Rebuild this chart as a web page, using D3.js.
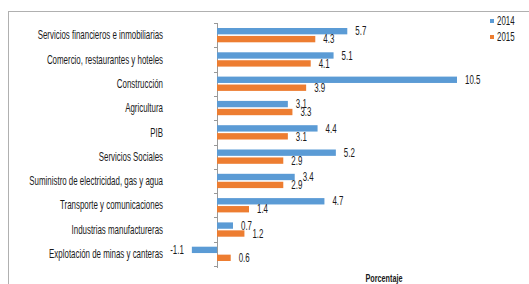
<!DOCTYPE html>
<html>
<head>
<meta charset="utf-8">
<script src="https://cdn.jsdelivr.net/npm/d3@7"></script>
<style>
  body { margin: 0; background: #fff; }
  text { font-family: 'Liberation Sans Narrow', 'Arial Narrow', 'Liberation Sans', sans-serif; }
</style>
</head>
<body>
<div class="chart"></div>
<script>
const categories = [
  'Servicios financieros e inmobiliarias',
  'Comercio, restaurantes y hoteles',
  'Construcción',
  'Agricultura',
  'PIB',
  'Servicios Sociales',
  'Suministro de electricidad, gas y agua',
  'Transporte y comunicaciones',
  'Industrias manufactureras',
  'Explotación de minas y canteras'
]
const values2014 = [5.7, 5.1, 10.5, 3.1, 4.4, 5.2, 3.4, 4.7, 0.7, -1.1]
const values2015 = [4.3, 4.1, 3.9, 3.3, 3.1, 2.9, 2.9, 1.4, 1.2, 0.6]
const seriesNames = ['2014', '2015']
const axisTitle = 'Porcentaje'

const COLOR_2014 = '#5b9bd5'
const COLOR_2015 = '#ed7d31'
const W = 529
const H = 284
// the original uses a narrow font, squeeze the text horizontally
const SQUEEZE = 0.66

const svg = d3.select('.chart').append('svg')
  .attr('width', W)
  .attr('height', H)

// narrow text helper: positioned group + horizontally scaled text
const narrowText = (container, px, py, str, anchor, size, weight) => {
  const g = container.append('g')
    .attr('transform', `translate(${px},${py}) scale(${SQUEEZE},1)`)
  g.append('text')
    .attr('dy', '0.35em')
    .attr('text-anchor', anchor)
    .attr('font-size', size)
    .attr('font-weight', weight || 'normal')
    .attr('fill', '#1a1a1a')
    .text(str)
  return g
}

// frame (top + left edges visible)
svg.append('line')
  .attr('x1', 8).attr('x2', W).attr('y1', 11.5).attr('y2', 11.5)
  .attr('stroke', '#b0b0b0').attr('stroke-width', 1)
svg.append('line')
  .attr('x1', 8.5).attr('x2', 8.5).attr('y1', 11).attr('y2', H)
  .attr('stroke', '#b0b0b0').attr('stroke-width', 1)

const x = d3.scaleLinear()
  .domain([0, 10.5])
  .range([217, 457])

const y = d3.scaleBand()
  .domain(categories)
  .range([23, 266])

const inner = d3.scaleBand()
  .domain(seriesNames)
  .range([5, y.bandwidth() - 5])
  .paddingInner(0.2)

// axis line with ticks at band boundaries
svg.append('line')
  .attr('x1', x(0) + 0.5).attr('x2', x(0) + 0.5)
  .attr('y1', y.range()[0]).attr('y2', y.range()[1] + 2)
  .attr('stroke', '#999')
const boundaries = categories.map(c => y(c)).concat([y.range()[1]])
svg.append('g').selectAll('line')
  .data(boundaries)
  .join('line')
  .attr('x1', x(0) - 3).attr('x2', x(0))
  .attr('y1', d => Math.round(d) + 0.5).attr('y2', d => Math.round(d) + 0.5)
  .attr('stroke', '#999')

// category labels
const catG = svg.append('g')
categories.forEach(c => {
  narrowText(catG, 163, y(c) + y.bandwidth() / 2, c, 'end', 12)
})

const addSeries = (vals, name, color) => {
  const g = svg.append('g')
  g.selectAll('rect')
    .data(vals)
    .join('rect')
    .attr('x', d => x(Math.min(0, d)))
    .attr('width', d => Math.abs(x(d) - x(0)))
    .attr('y', (d, i) => y(categories[i]) + inner(name))
    .attr('height', inner.bandwidth())
    .attr('fill', color)
  vals.forEach((d, i) => {
    const ly = y(categories[i]) + inner(name) + inner.bandwidth() / 2
    const lx = d < 0 ? x(d) - 8 : x(d) + 8
    narrowText(g, lx, ly, d.toFixed(1), d < 0 ? 'end' : 'start', 12)
  })
}

addSeries(values2014, '2014', COLOR_2014)
addSeries(values2015, '2015', COLOR_2015)

// legend
const legend = svg.append('g')
seriesNames.forEach((s, i) => {
  legend.append('rect')
    .attr('x', 490).attr('y', 21 + i * 16 - 2)
    .attr('width', 4).attr('height', 4)
    .attr('fill', i === 0 ? COLOR_2014 : COLOR_2015)
  narrowText(legend, 497, 21 + i * 16, s, 'start', 12)
})

// axis title
narrowText(svg, 384, 278, axisTitle, 'middle', 11, 'bold')
</script>
</body>
</html>
